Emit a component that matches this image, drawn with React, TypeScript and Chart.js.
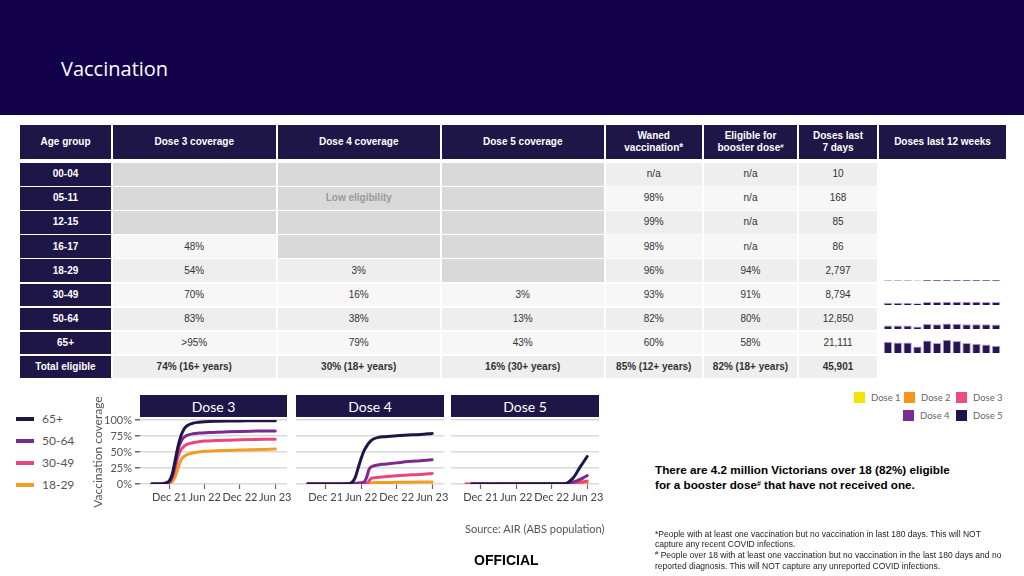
import React, { useEffect, useRef } from "react";
import { Chart, registerables } from "chart.js";

Chart.register(...registerables);

// ---------------- Table data ----------------
const columnHeaders = [
  "Age group",
  "Dose 3 coverage",
  "Dose 4 coverage",
  "Dose 5 coverage",
  "Waned\nvaccination*",
  "Eligible for\nbooster dose#",
  "Doses last\n7 days",
  "Doses last 12 weeks",
];
const ageGroups = ["00-04", "05-11", "12-15", "16-17", "18-29", "30-49", "50-64", "65+", "Total eligible"];
// null = low eligibility (greyed)
const dose3Coverage = [null, null, null, "48%", "54%", "70%", "83%", ">95%", "74% (16+ years)"];
const dose4Coverage = [null, null, null, null, "3%", "16%", "38%", "79%", "30% (18+ years)"];
const dose5Coverage = [null, null, null, null, null, "3%", "13%", "43%", "16% (30+ years)"];
const wanedVaccination = ["n/a", "98%", "99%", "98%", "96%", "93%", "82%", "60%", "85% (12+ years)"];
const eligibleBooster = ["n/a", "n/a", "n/a", "n/a", "94%", "91%", "80%", "58%", "82% (18+ years)"];
const dosesLast7Days = ["10", "168", "85", "86", "2,797", "8,794", "12,850", "21,111", "45,901"];

// ---------------- Doses last 12 weeks (sparklines) ----------------
const weekLabels = ["W1", "W2", "W3", "W4", "W5", "W6", "W7", "W8", "W9", "W10", "W11", "W12"];
const weekly18to29 = [2000, 2000, 2000, 1800, 2700, 2700, 3000, 3000, 3000, 2900, 2900, 2797];
const weekly30to49 = [6200, 6200, 6200, 5200, 8500, 8500, 9500, 9500, 9300, 9200, 9000, 8794];
const weekly50to64 = [10500, 10500, 10500, 7500, 14500, 13500, 16000, 15500, 14000, 13500, 13500, 12850];
const weekly65plus = [32600, 30700, 30700, 19200, 36500, 28800, 38400, 34500, 28800, 26900, 25000, 21111];
const sparkRows = [4, 5, 6, 7];
const sparkSeries = [weekly18to29, weekly30to49, weekly50to64, weekly65plus];
const sparkMax = 58000;

// ---------------- Coverage over time (months relative to Dec 2021) ----------------
const xTickMonths = [0, 6, 12, 18];
const xTickLabels = ["Dec 21", "Jun 22", "Dec 22", "Jun 23"];
const yTickValues = [0, 25, 50, 75, 100];
const seriesLabels = ["65+", "50-64", "30-49", "18-29"];
const seriesColors = ["#201547", "#7b2a8e", "#e8467c", "#f39c22"];

const dose3Months = [-3, -2, -1, -0.5, 0, 0.5, 1, 1.5, 2, 2.5, 3, 4, 5, 6, 8, 10, 12, 14, 16, 18];
const dose3_65plus = [0, 0, 0.5, 2, 5, 16, 38, 60, 76, 86, 91, 95, 96.5, 97.3, 98, 98.4, 98.6, 98.8, 99, 99];
const dose3_50to64 = [0, 0, 0.5, 1.5, 4, 13, 32, 55, 67, 73, 76, 78.5, 79.5, 80, 81, 81.5, 82, 82.5, 83, 83];
const dose3_30to49 = [0, 0, 0.5, 1.5, 3, 10, 25, 44, 54, 59, 62, 64.5, 66, 67, 68, 68.5, 69, 69.5, 70, 70];
const dose3_18to29 = [0, 0, 0.3, 0.8, 1.5, 4, 12, 25, 38, 43, 46, 48.5, 50, 51, 52, 52.5, 53, 53.5, 54, 54.5];

const dose4Months = [-3, 4, 4.5, 5, 5.5, 6, 6.5, 7, 7.3, 7.6, 8, 9, 10, 12, 14, 16, 18];
const dose4_65plus = [0, 0.5, 3, 10, 25, 40, 52, 60, 64, 67, 70, 73, 74, 75.5, 76.5, 77.5, 79];
const dose4_50to64 = [0, 0.5, 0.7, 1, 1.5, 2, 3, 12, 22, 26, 28, 30, 31, 33, 35, 36.5, 38];
const dose4_30to49 = [0, 0, 0, 0.2, 0.3, 0.5, 0.7, 1, 4, 8, 9.5, 10.5, 11.5, 13, 14, 15, 16.5];
const dose4_18to29 = [0, 0, 0, 0, 0, 0, 0, 0, 0.5, 1.5, 2, 2.3, 2.4, 2.6, 2.8, 3, 3.2];

const dose5Months = [-2.5, -1.5, 14, 14.5, 15, 15.5, 16, 16.5, 17, 17.5, 18];
const dose5_65plus = [null, 0, 0.3, 1, 4, 8, 14, 22, 29, 36, 43];
const dose5_50to64 = [null, 0, 0, 0.5, 1.5, 2.5, 4, 6, 8, 10.5, 13];
const dose5_30to49 = [0, 0, 0, 0.2, 0.5, 1, 1.5, 2.2, 3, 3.8, 4.5];
const dose5_18to29 = [0, 0, 0, 0, 0, 0.2, 0.5, 0.7, 1, 1.2, 1.5];

const panelTitles = ["Dose 3", "Dose 4", "Dose 5"];
const doseLegendLabels = ["Dose 1", "Dose 2", "Dose 3", "Dose 4", "Dose 5"];
const doseLegendColors = ["#f2e400", "#f7941d", "#ee4b7f", "#7b2d90", "#201547"];

// ---------------- Layout constants ----------------
const NAVY = "#1d1647";
const ARIAL = "'Liberation Sans', Arial, sans-serif";
const LATO = "Lato, 'Noto Sans', sans-serif";
const colX = [20, 112.5, 277.5, 441.5, 605.5, 704, 799, 879];
const colW = [91, 163.5, 162.5, 162.5, 96.5, 93, 78, 127];
const headerTop = 125;
const headerH = 34;
const rowTop0 = 163;
const rowStep = 24.1;
const rowH = 22.6;
const PANEL_TOP_PAD = 30;
const PANEL_CANVAS_TOP = 390;

function ChartCanvas({ left, top, width, height, makeConfig }: any) {
  const ref = useRef<HTMLCanvasElement>(null);
  useEffect(() => {
    const chart = new Chart(ref.current as HTMLCanvasElement, makeConfig());
    return () => chart.destroy();
  }, []);
  return (
    <canvas
      ref={ref}
      width={width}
      height={height}
      style={{ position: "absolute", left, top, width, height }}
    />
  );
}

function lineConfig(months: number[], values: (number | null)[][], showY: boolean, xMin: number, xMax: number) {
  return {
    type: "line",
    data: {
      datasets: values.map((vals, si) => ({
        label: seriesLabels[si],
        data: months.map((m, i) => ({ x: m, y: vals[i] })),
        borderColor: seriesColors[si],
        backgroundColor: seriesColors[si],
        borderWidth: 3,
        pointRadius: 0,
        cubicInterpolationMode: "monotone",
        fill: false,
        spanGaps: false,
        borderCapStyle: "round",
        borderJoinStyle: "round",
      })),
    },
    options: {
      animation: false,
      responsive: false,
      events: [],
      layout: { padding: { top: PANEL_TOP_PAD, bottom: 0, left: showY ? 0 : 10, right: 20 } },
      plugins: { legend: { display: false }, tooltip: { enabled: false } },
      scales: {
        x: {
          type: "linear",
          min: xMin,
          max: xMax,
          afterBuildTicks: (s: any) => {
            s.ticks = xTickMonths.map((v) => ({ value: v }));
          },
          afterFit: (s: any) => {
            s.height = 28;
          },
          ticks: {
            autoSkip: false,
            maxRotation: 0,
            padding: 2,
            color: "#444",
            font: { family: LATO, size: 11 },
            callback: (v: any) => {
              const i = xTickMonths.indexOf(Number(v));
              return i >= 0 ? xTickLabels[i] : "";
            },
          },
          grid: { drawOnChartArea: false, drawTicks: true, tickLength: 5, tickColor: "#666", tickWidth: 1.2 },
          border: { display: false },
        },
        y: {
          min: 0,
          max: 100,
          afterBuildTicks: (s: any) => {
            s.ticks = yTickValues.map((v) => ({ value: v }));
          },
          afterFit: (s: any) => {
            s.width = showY ? 53 : 0;
          },
          ticks: {
            display: showY,
            autoSkip: false,
            padding: 3,
            color: "#555",
            font: { family: LATO, size: 11 },
            callback: (v: any) => v + "%",
          },
          grid: { color: "#d9d9d9", lineWidth: 1.5, drawTicks: showY, tickLength: 5, tickColor: "#666" },
          border: { display: false },
          title: {
            display: showY,
            text: "Vaccination coverage",
            color: "#555",
            font: { family: LATO, size: 12 },
            padding: { top: 4, bottom: 0 },
          },
        },
      },
    },
  };
}

function sparkConfig(values: number[]) {
  return {
    type: "bar",
    data: {
      labels: weekLabels,
      datasets: [
        {
          data: values,
          backgroundColor: "#22174f",
          borderColor: "#c49ade",
          borderWidth: 1,
          barPercentage: 0.86,
          categoryPercentage: 1,
        },
      ],
    },
    options: {
      animation: false,
      responsive: false,
      events: [],
      layout: { padding: 0 },
      plugins: { legend: { display: false }, tooltip: { enabled: false } },
      scales: {
        x: { display: false },
        y: { display: false, min: 0, max: sparkMax },
      },
    },
  };
}

function Sup({ size }: any) {
  return (
    <span style={{ fontSize: size, position: "relative", top: -3, lineHeight: 0 }}>#</span>
  );
}

function withSup(text: string) {
  const parts = text.split("#");
  if (parts.length === 1) return text;
  return (
    <>
      {parts[0]}
      <Sup size="0.6em" />
      {parts[1]}
    </>
  );
}

function Cell({ x, w, y, h, bg, color, bold, size, children }: any) {
  return (
    <div
      style={{
        position: "absolute",
        left: x,
        top: y,
        width: w,
        height: h,
        background: bg,
        color,
        fontWeight: bold ? 700 : 400,
        fontSize: size || 10,
        fontFamily: ARIAL,
        display: "flex",
        alignItems: "center",
        justifyContent: "center",
        textAlign: "center",
        lineHeight: "12px",
      }}
    >
      <span style={{ whiteSpace: "pre-line" }}>{children}</span>
    </div>
  );
}

export default function App() {
  const dataColumns = [dose3Coverage, dose4Coverage, dose5Coverage, wanedVaccination, eligibleBooster, dosesLast7Days];
  const rowTop = (i: number) => rowTop0 + i * rowStep;

  const panels = [
    { months: dose3Months, values: [dose3_65plus, dose3_50to64, dose3_30to49, dose3_18to29], showY: true, areaLeft: 140, areaW: 147 },
    { months: dose4Months, values: [dose4_65plus, dose4_50to64, dose4_30to49, dose4_18to29], showY: false, areaLeft: 296, areaW: 148 },
    { months: dose5Months, values: [dose5_65plus, dose5_50to64, dose5_30to49, dose5_18to29], showY: false, areaLeft: 451, areaW: 148 },
  ];

  const doseLegendPos = [
    { x: 854, y: 392 },
    { x: 904, y: 392 },
    { x: 956, y: 392 },
    { x: 903, y: 410 },
    { x: 956, y: 410 },
  ];

  return (
    <div
      style={{
        position: "fixed",
        left: 0,
        top: 0,
        width: 1024,
        height: 576,
        background: "#ffffff",
        overflow: "hidden",
        fontFamily: ARIAL,
      }}
    >
      {/* Title band */}
      <div style={{ position: "absolute", left: 0, top: 0, width: 1024, height: 115, background: "#12004a" }} />
      <div
        style={{
          position: "absolute",
          left: 61,
          top: 55,
          color: "#fff",
          fontFamily: "'Open Sans', sans-serif",
          fontSize: 20,
          lineHeight: "28px",
        }}
      >
        Vaccination
      </div>

      {/* Table header */}
      {columnHeaders.map((h, c) => (
        <Cell key={"h" + c} x={colX[c]} w={colW[c]} y={headerTop} h={headerH} bg={NAVY} color="#fff" bold>
          {withSup(h)}
        </Cell>
      ))}

      {/* Table body */}
      {ageGroups.map((g, r) => {
        const light = r % 2 === 1;
        const bg = light ? "#f7f7f7" : "#eeeeee";
        const isTotal = r === ageGroups.length - 1;
        return (
          <React.Fragment key={"r" + r}>
            <Cell x={colX[0]} w={colW[0]} y={rowTop(r)} h={rowH} bg={NAVY} color="#fff" bold>
              {g}
            </Cell>
            {dataColumns.map((col, ci) => {
              const v = col[r];
              const c = ci + 1;
              return (
                <Cell
                  key={"c" + r + "-" + c}
                  x={colX[c]}
                  w={colW[c]}
                  y={rowTop(r)}
                  h={rowH}
                  bg={v === null ? "#d9d9d9" : bg}
                  color="#333"
                  bold={isTotal}
                >
                  {v === null ? "" : v}
                </Cell>
              );
            })}
          </React.Fragment>
        );
      })}
      <Cell x={colX[2]} w={colW[2]} y={rowTop(1)} h={rowH} bg="transparent" color="#9a9a9a" bold>
        Low eligibility
      </Cell>

      {/* Sparklines: doses last 12 weeks */}
      {sparkRows.map((r, i) => (
        <ChartCanvas
          key={"s" + r}
          left={883}
          top={Math.round(rowTop(r) + rowH - 21)}
          width={118}
          height={20}
          makeConfig={() => sparkConfig(sparkSeries[i])}
        />
      ))}

      {/* Left legend */}
      {seriesLabels.map((l, i) => (
        <React.Fragment key={"lg" + i}>
          <div
            style={{
              position: "absolute",
              left: 16,
              top: 417 + i * 22,
              width: 18,
              height: 4,
              background: seriesColors[i],
            }}
          />
          <div
            style={{
              position: "absolute",
              left: 42,
              top: 411 + i * 22,
              fontFamily: LATO,
              fontSize: 12,
              lineHeight: "16px",
              color: "#555",
            }}
          >
            {l}
          </div>
        </React.Fragment>
      ))}

      {/* Panel strips */}
      {panels.map((p, i) => (
        <div
          key={"strip" + i}
          style={{
            position: "absolute",
            left: p.areaLeft,
            top: 395,
            width: p.areaW,
            height: 22,
            background: NAVY,
            color: "#fff",
            fontFamily: LATO,
            fontSize: 14,
            display: "flex",
            alignItems: "center",
            justifyContent: "center",
          }}
        >
          {panelTitles[i]}
        </div>
      ))}

      {/* Line panels */}
      {panels.map((p, i) => {
        const leftExtra = p.showY ? 53 : 10;
        return (
          <ChartCanvas
            key={"panel" + i}
            left={p.areaLeft - leftExtra}
            top={PANEL_CANVAS_TOP}
            width={leftExtra + p.areaW + 20}
            height={420 - PANEL_CANVAS_TOP + 64 + 28}
            makeConfig={() => lineConfig(p.months, p.values, p.showY, -5, 20)}
          />
        );
      })}

      {/* Dose legend */}
      {doseLegendLabels.map((l, i) => (
        <React.Fragment key={"dl" + i}>
          <div
            style={{
              position: "absolute",
              left: doseLegendPos[i].x,
              top: doseLegendPos[i].y,
              width: 11,
              height: 11,
              background: doseLegendColors[i],
            }}
          />
          <div
            style={{
              position: "absolute",
              left: doseLegendPos[i].x + 17,
              top: doseLegendPos[i].y - 1,
              fontFamily: LATO,
              fontSize: 9.5,
              lineHeight: "13px",
              color: "#666",
            }}
          >
            {l}
          </div>
        </React.Fragment>
      ))}

      {/* Key message */}
      <div
        style={{
          position: "absolute",
          left: 655,
          top: 463,
          fontFamily: ARIAL,
          fontWeight: 700,
          fontSize: 11.7,
          lineHeight: "14.5px",
          color: "#000",
          whiteSpace: "nowrap",
        }}
      >
        There are 4.2 million Victorians over 18 (82%) eligible
        <br />
        for a booster dose<Sup size="0.6em" /> that have not received one.
      </div>

      {/* Source */}
      <div
        style={{
          position: "absolute",
          left: 465,
          top: 521,
          fontFamily: LATO,
          fontSize: 11,
          lineHeight: "16px",
          color: "#555",
        }}
      >
        Source: AIR (ABS population)
      </div>

      {/* OFFICIAL */}
      <div
        style={{
          position: "absolute",
          left: 474,
          top: 551,
          fontFamily: ARIAL,
          fontWeight: 700,
          fontSize: 14,
          lineHeight: "18px",
          color: "#000",
        }}
      >
        OFFICIAL
      </div>

      {/* Footnotes */}
      <div
        style={{
          position: "absolute",
          left: 655,
          top: 528.5,
          fontFamily: ARIAL,
          fontSize: 8.5,
          lineHeight: "10.7px",
          color: "#222",
          whiteSpace: "nowrap",
        }}
      >
        *People with at least one vaccination but no vaccination in last 180 days. This will NOT
        <br />
        capture any recent COVID infections.
        <br />
        <Sup size="0.7em" /> People over 18 with at least one vaccination but no vaccination in the last 180 days and no
        <br />
        reported diagnosis. This will NOT capture any unreported COVID infections.
      </div>
    </div>
  );
}
